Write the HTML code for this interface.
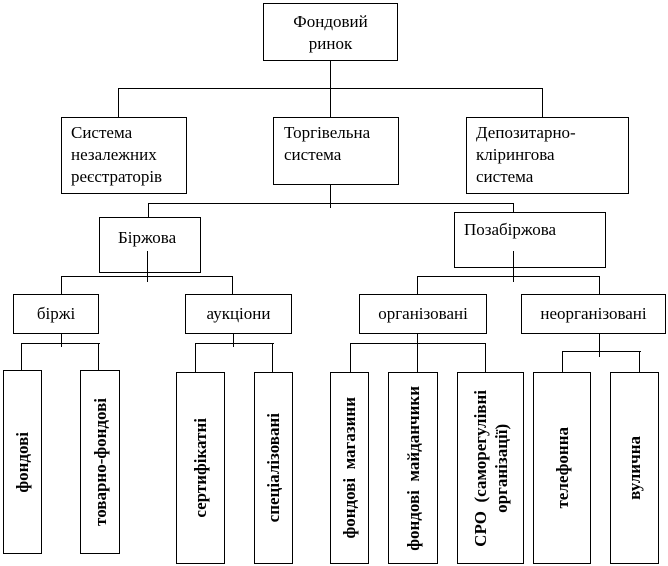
<!DOCTYPE html>
<html><head><meta charset="utf-8"><style>
body{margin:0;background:#fff;width:668px;height:566px;position:relative;overflow:hidden;font-family:"Liberation Serif",serif;color:#000}
.b{position:absolute;border:1.5px solid #000;box-sizing:border-box;background:#fff;font-size:17px;line-height:22px;white-space:nowrap}
.l{position:absolute;background:#000}
.v{position:absolute;border:1.5px solid #000;box-sizing:border-box;background:#fff;display:flex;align-items:center;justify-content:center}
.v span{writing-mode:vertical-rl;transform:rotate(180deg);font-size:17px;font-weight:bold;line-height:21px;white-space:nowrap;text-align:center}
</style></head><body>
<div class="l" style="left:330px;top:60px;width:1px;height:57px"></div>
<div class="l" style="left:118px;top:88px;width:425px;height:1px"></div>
<div class="l" style="left:118px;top:88px;width:1px;height:29px"></div>
<div class="l" style="left:542px;top:88px;width:1px;height:29px"></div>
<div class="l" style="left:330px;top:180px;width:1px;height:28px"></div>
<div class="l" style="left:148px;top:203px;width:366px;height:1px"></div>
<div class="l" style="left:148px;top:203px;width:1px;height:14px"></div>
<div class="l" style="left:513px;top:203px;width:1px;height:9px"></div>
<div class="l" style="left:61px;top:276px;width:172px;height:1px"></div>
<div class="l" style="left:61px;top:276px;width:1px;height:18px"></div>
<div class="l" style="left:232px;top:276px;width:1px;height:18px"></div>
<div class="l" style="left:417px;top:276px;width:183px;height:1px"></div>
<div class="l" style="left:417px;top:276px;width:1px;height:18px"></div>
<div class="l" style="left:599px;top:276px;width:1px;height:18px"></div>
<div class="l" style="left:21px;top:343px;width:79px;height:1px"></div>
<div class="l" style="left:21px;top:343px;width:1px;height:28px"></div>
<div class="l" style="left:98px;top:343px;width:1px;height:28px"></div>
<div class="l" style="left:195px;top:343px;width:79px;height:1px"></div>
<div class="l" style="left:195px;top:343px;width:1px;height:29px"></div>
<div class="l" style="left:272px;top:343px;width:1px;height:29px"></div>
<div class="l" style="left:350px;top:343px;width:136px;height:1px"></div>
<div class="l" style="left:350px;top:343px;width:1px;height:29px"></div>
<div class="l" style="left:485px;top:343px;width:1px;height:29px"></div>
<div class="l" style="left:562px;top:351px;width:79px;height:1px"></div>
<div class="l" style="left:562px;top:351px;width:1px;height:21px"></div>
<div class="l" style="left:639px;top:351px;width:1px;height:21px"></div>
<div class="b" style="left:263px;top:3px;width:135px;height:58px;text-align:center;padding-top:7px">Фондовий<br>ринок</div>
<div class="b" style="left:61px;top:117px;width:126px;height:77px;padding:4px 0 0 9px">Система<br>незалежних<br>реєстраторів</div>
<div class="b" style="left:273px;top:117px;width:126px;height:68px;padding:4px 0 0 10px">Торгівельна<br>система</div>
<div class="b" style="left:466px;top:117px;width:163px;height:77px;padding:4px 0 0 9px">Депозитарно-<br>клірингова<br>система</div>
<div class="b" style="left:99px;top:217px;width:102px;height:56px;padding:9px 0 0 18px;background:transparent">Біржова</div>
<div class="b" style="left:454px;top:212px;width:152px;height:56px;padding:6px 0 0 9px;background:transparent">Позабіржова</div>
<div class="l" style="left:147px;top:251px;width:1px;height:31px"></div>
<div class="l" style="left:513px;top:251px;width:1px;height:31px"></div>
<div class="b" style="left:13px;top:294px;width:86px;height:40px;text-align:center;padding-top:8px">біржі</div>
<div class="b" style="left:185px;top:294px;width:107px;height:40px;text-align:center;padding-top:8px">аукціони</div>
<div class="b" style="left:359px;top:294px;width:128px;height:40px;text-align:center;padding-top:8px">організовані</div>
<div class="b" style="left:521px;top:294px;width:145px;height:40px;text-align:center;padding-top:8px">неорганізовані</div>
<div class="l" style="left:61px;top:333px;width:1px;height:14px"></div>
<div class="l" style="left:233px;top:333px;width:1px;height:14px"></div>
<div class="l" style="left:417px;top:333px;width:1px;height:39px"></div>
<div class="l" style="left:599px;top:333px;width:1px;height:24px"></div>
<div class="v" style="left:3px;top:370px;width:39px;height:184px"><span>фондові</span></div>
<div class="v" style="left:80px;top:370px;width:40px;height:184px"><span>товарно-фондові</span></div>
<div class="v" style="left:176px;top:372px;width:49px;height:192px"><span>сертифікатні</span></div>
<div class="v" style="left:254px;top:372px;width:39px;height:192px"><span>спеціалізовані</span></div>
<div class="v" style="left:330px;top:372px;width:39px;height:192px"><span>фондові&nbsp; магазини</span></div>
<div class="v" style="left:388px;top:372px;width:50px;height:192px"><span>фондові&nbsp; майданчики</span></div>
<div class="v" style="left:457px;top:372px;width:67px;height:192px"><span>СРО&nbsp; (саморегулівні<br>організації)</span></div>
<div class="v" style="left:533px;top:372px;width:58px;height:192px"><span>телефонна</span></div>
<div class="v" style="left:610px;top:372px;width:49px;height:192px"><span>вулична</span></div>
</body></html>
